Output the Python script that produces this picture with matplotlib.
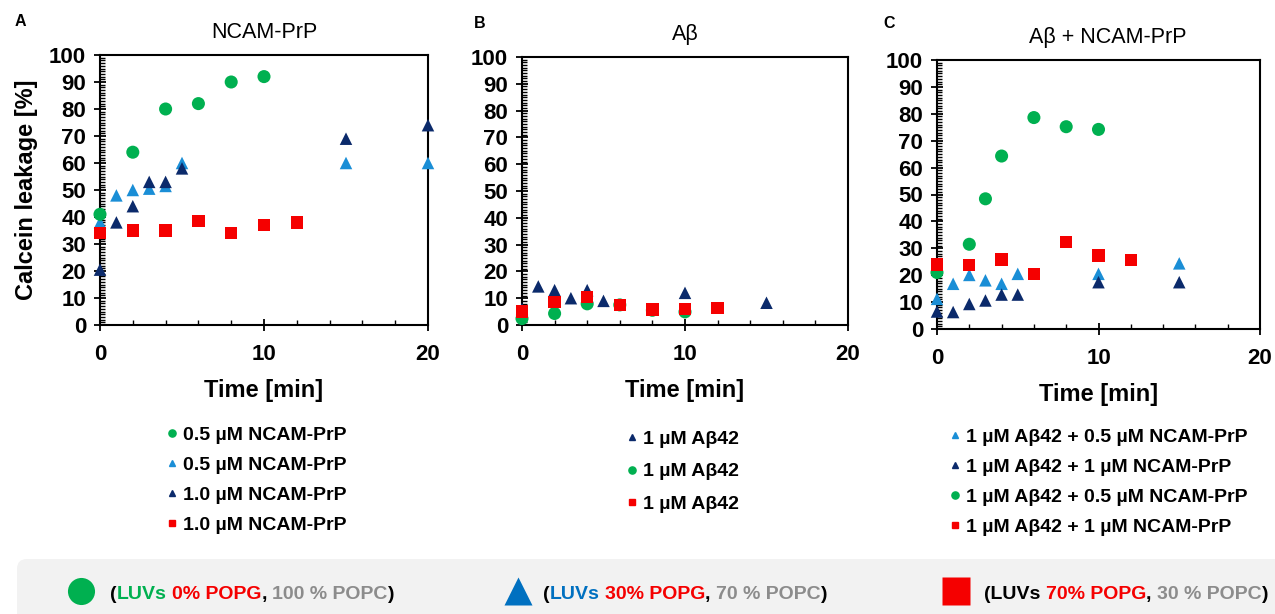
import matplotlib
matplotlib.use("Agg")
import matplotlib.pyplot as plt
from matplotlib.lines import Line2D
from matplotlib.patches import FancyBboxPatch
import numpy as np

plt.rcParams['font.family'] = ['Liberation Sans', 'DejaVu Sans']
plt.rcParams['font.weight'] = 'bold'

GREEN = '#00b050'
LBLUE = '#1a8ed6'
NAVY = '#0b2a6b'
RED = '#f50000'
GREY = '#8c8c8c'
BAND_BLUE = '#0070c0'

# ---- panel A : NCAM-PrP ----
a_green_t = [0, 2, 4, 6, 8, 10]
a_green_y = [41, 64, 80, 82, 90, 92]
a_lblue_t = [0, 1, 2, 3, 4, 5, 15, 20]
a_lblue_y = [38, 48, 50, 50.5, 51.5, 60, 60, 60]
a_navy_t = [0, 1, 2, 3, 4, 5, 15, 20]
a_navy_y = [20.5, 38, 44, 53, 53, 58, 69, 74]
a_red_t = [0, 2, 4, 6, 8, 10, 12]
a_red_y = [34, 35, 35, 38.5, 34, 37, 38]

# ---- panel B : Abeta ----
b_navy_t = [0, 1, 2, 3, 4, 5, 10, 15]
b_navy_y = [6, 14.4, 13, 10, 13, 9, 12, 8.3]
b_green_t = [0, 2, 4, 6, 8, 10]
b_green_y = [2.4, 4.3, 7.9, 7.5, 5.5, 4.9]
b_red_t = [0, 2, 4, 6, 8, 10, 12]
b_red_y = [5, 8.5, 10.4, 7.6, 5.8, 6.1, 6.3]

# ---- panel C : Abeta + NCAM-PrP ----
c_lblue_t = [0, 1, 2, 3, 4, 5, 10, 15]
c_lblue_y = [11.2, 16.8, 20.1, 18.1, 16.8, 20.5, 20.5, 24.4]
c_navy_t = [0, 1, 2, 3, 4, 5, 10, 15]
c_navy_y = [6.5, 6.3, 9.3, 10.6, 12.8, 12.8, 17.4, 17.4]
c_green_t = [0, 2, 3, 4, 6, 8, 10]
c_green_y = [21, 31.5, 48.4, 64.3, 78.6, 75.2, 74.2]
c_red_t = [0, 2, 4, 6, 8, 10, 12]
c_red_y = [24, 23.7, 25.8, 20.5, 32.3, 27.3, 25.7]

titles = ['NCAM-PrP', 'Aβ', 'Aβ + NCAM-PrP']
letters = ['A', 'B', 'C']
legend_a = ['0.5 µM NCAM-PrP', '0.5 µM NCAM-PrP', '1.0 µM NCAM-PrP', '1.0 µM NCAM-PrP']
legend_b = ['1 µM Aβ42', '1 µM Aβ42', '1 µM Aβ42']
legend_c = ['1 µM Aβ42 + 0.5 µM NCAM-PrP', '1 µM Aβ42 + 1 µM NCAM-PrP',
            '1 µM Aβ42 + 0.5 µM NCAM-PrP', '1 µM Aβ42 + 1 µM NCAM-PrP']

W, H = 1275, 614
fig = plt.figure(figsize=(W / 100, H / 100), dpi=100)


def px_box(l, t, r, b):
    return [l / W, (H - b) / H, (r - l) / W, (b - t) / H]


STY = {
    'green': dict(marker='o', color=GREEN, s=9.4 ** 2),
    'lblue': dict(marker='^', color=LBLUE, s=9.0 ** 2),
    'navy': dict(marker='^', color=NAVY, s=9.0 ** 2),
    'red': dict(marker='s', color=RED, s=8.8 ** 2),
}


def handle(key):
    st = STY[key]
    return Line2D([], [], ls='none', marker=st['marker'], color=st['color'],
                  markersize=np.sqrt(st['s']) * 0.55)


boxes = [px_box(100, 55, 428, 325), px_box(522, 57, 848, 325), px_box(937, 60, 1260, 329)]
series = [
    [('lblue', a_lblue_t, a_lblue_y), ('navy', a_navy_t, a_navy_y),
     ('green', a_green_t, a_green_y), ('red', a_red_t, a_red_y)],
    [('navy', b_navy_t, b_navy_y), ('green', b_green_t, b_green_y), ('red', b_red_t, b_red_y)],
    [('lblue', c_lblue_t, c_lblue_y), ('navy', c_navy_t, c_navy_y),
     ('green', c_green_t, c_green_y), ('red', c_red_t, c_red_y)],
]
leg_keys = [['green', 'lblue', 'navy', 'red'], ['navy', 'green', 'red'],
            ['lblue', 'navy', 'green', 'red']]
leg_labels = [legend_a, legend_b, legend_c]
leg_pos = [(167, 480, 0.64), (627, 471.5, 0.78), (950, 482, 0.64)]
letter_pos = [(20, 21), (480, 24), (889, 23)]
title_x = [0.5, 0.5, 0.53]

for i in range(3):
    ax = fig.add_axes(boxes[i])
    for z, (key, t, y) in enumerate(series[i]):
        ax.scatter(t, y, edgecolors='none', clip_on=False, zorder=3 + z, **STY[key])
    ax.set_xlim(0, 20)
    ax.set_ylim(0, 100)
    ax.set_xticks([0, 10, 20])
    ax.set_xticks(np.arange(0, 21, 2), minor=True)
    ax.set_yticks(np.arange(0, 101, 10))
    ax.set_yticks(np.arange(0, 101, 1), minor=True)
    for sp in ax.spines.values():
        sp.set_linewidth(1.5)
    ax.tick_params(which='major', direction='inout', length=8, width=1.3, labelsize=16)
    ax.tick_params(axis='y', which='major', pad=6)
    ax.tick_params(axis='x', which='major', pad=10)
    ax.tick_params(which='minor', direction='in', length=3.6, width=1.0)
    ax.set_xlabel('Time [min]', fontsize=17, fontweight='bold', labelpad=10)
    if i == 0:
        ax.set_ylabel('Calcein leakage [%]', fontsize=17, fontweight='bold', labelpad=8)
    ax.set_title(titles[i], fontsize=15.5, fontweight='normal', pad=12, x=title_x[i])
    fig.text(letter_pos[i][0] / W, 1 - letter_pos[i][1] / H, letters[i],
             fontsize=11.5, fontweight='bold', ha='center', va='center')
    lx, ly, lsp = leg_pos[i]
    fig.legend([handle(k) for k in leg_keys[i]], leg_labels[i], loc='center left',
               bbox_to_anchor=(lx / W, 1 - ly / H), frameon=False, fontsize=14,
               handlelength=0.5, handletextpad=0.3, labelspacing=lsp,
               borderpad=0, borderaxespad=0)

# ---- bottom key band ----
bg = fig.add_axes([0, 0, 1, 1], zorder=-1)
bg.set_xlim(0, W)
bg.set_ylim(H, 0)
bg.axis('off')
bg.add_patch(FancyBboxPatch((17, 559), W + 30, 80, boxstyle='round,pad=0,rounding_size=10',
                            facecolor='#f2f2f2', edgecolor='none'))

band_keys = [('o', GREEN, 19.5, 81), ('^', BAND_BLUE, 20.5, 518), ('s', RED, 19.5, 956)]
band_text = [
    [('(', 'black'), ('LUVs', GREEN), (' 0% POPG', RED), (',', 'black'),
     (' 100 % POPC', GREY), (')', 'black')],
    [('(', 'black'), ('LUVs', BAND_BLUE), (' 30% POPG', RED), (',', 'black'),
     (' 70 % POPC', GREY), (')', 'black')],
    [('(LUVs', 'black'), (' 70% POPG', RED), (',', 'black'),
     (' 30 % POPC', GREY), (')', 'black')],
]
band_text_x = [110, 543, 984]

r = fig.canvas.get_renderer()


def text_w(s):
    t = bg.text(0, 0, s, fontsize=14, fontweight='bold')
    w = t.get_window_extent(renderer=r).width
    t.remove()
    return w


space_w = text_w('a a') - text_w('aa')

for (m, c, ms, mx), pieces, tx in zip(band_keys, band_text, band_text_x):
    bg.plot([mx], [591], ls='none', marker=m, color=c, markersize=ms, mec='none')
    x = tx
    for s, col in pieces:
        if s.startswith(' '):
            x += space_w
            s = s[1:]
        t = bg.text(x, 599, s, color=col, fontsize=14, fontweight='bold', va='baseline')
        x += t.get_window_extent(renderer=r).width

fig.savefig('out.png', dpi=100)
